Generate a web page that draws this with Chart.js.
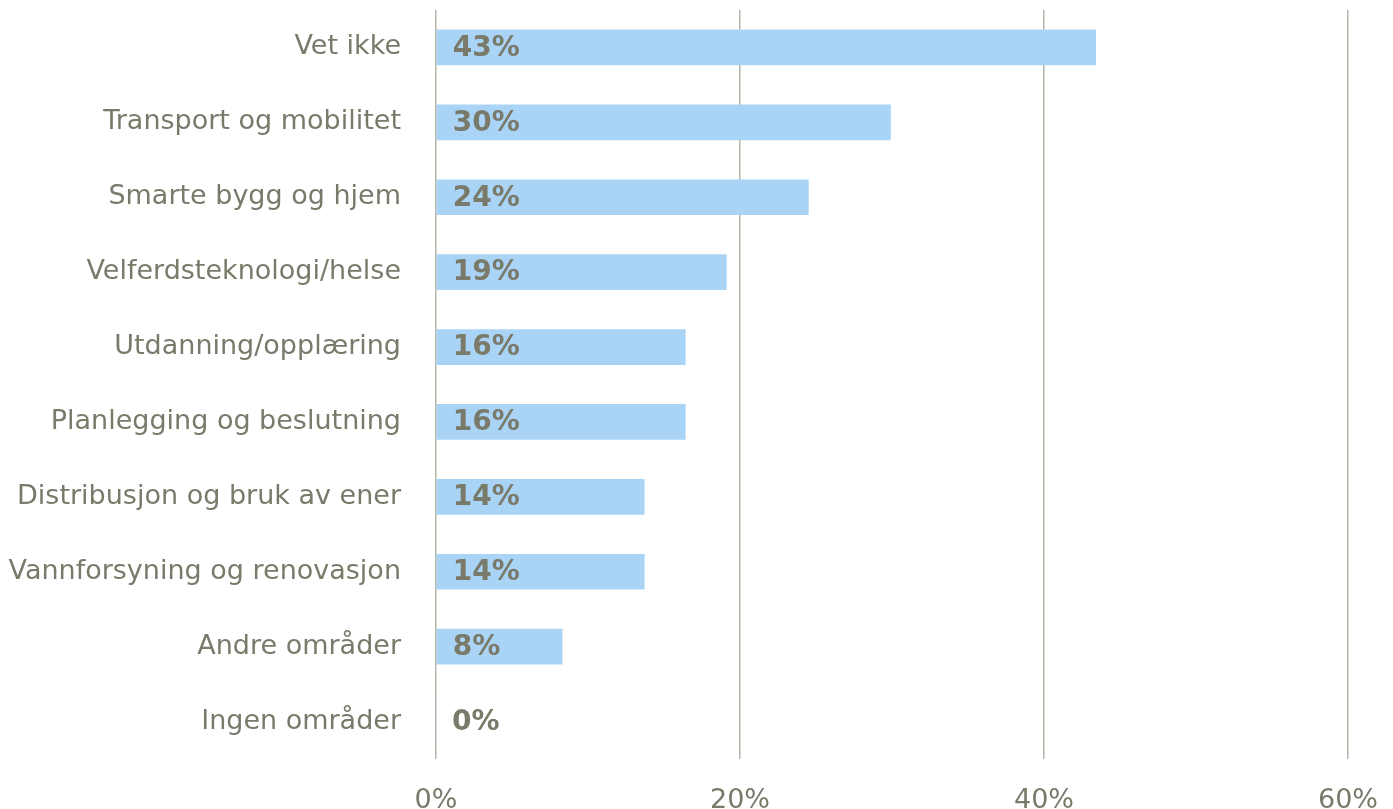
<!DOCTYPE html>
<html>
<head>
<meta charset="utf-8">
<script src="https://cdn.jsdelivr.net/npm/chart.js@4"></script>
<style>
  html, body { margin: 0; padding: 0; background: #fff; }
  #wrap { width: 1393px; height: 809px; position: relative; }
</style>
</head>
<body>
<div id="wrap"><canvas id="chart"></canvas></div>
<script>
const categories = [
  'Vet ikke',
  'Transport og mobilitet',
  'Smarte bygg og hjem',
  'Velferdsteknologi/helse',
  'Utdanning/opplæring',
  'Planlegging og beslutning',
  'Distribusjon og bruk av ener',
  'Vannforsyning og renovasjon',
  'Andre områder',
  'Ingen områder'
];
const values = [43.4, 29.9, 24.5, 19.1, 16.4, 16.4, 13.7, 13.7, 8.3, 0];
const valueLabels = ['43%', '30%', '24%', '19%', '16%', '16%', '14%', '14%', '8%', '0%'];
const xTicks = [0, 20, 40, 60];

const textColor = '#7a7a6b';
const fontFamily = '"DejaVu Sans", Verdana, sans-serif';

// tekst inni søylene
const barLabels = {
  id: 'barLabels',
  afterDatasetsDraw(chart) {
    const ctx = chart.ctx;
    const meta = chart.getDatasetMeta(0);
    ctx.save();
    ctx.font = 'bold 28px ' + fontFamily;
    ctx.fillStyle = textColor;
    ctx.textAlign = 'left';
    ctx.textBaseline = 'middle';
    meta.data.forEach((bar, i) => {
      ctx.fillText(valueLabels[i], bar.base + 16, bar.y + 1);
    });
    ctx.restore();
  }
};

new Chart(document.getElementById('chart'), {
  type: 'bar',
  data: {
    labels: categories,
    datasets: [{
      data: values,
      backgroundColor: '#a9d4f5',
      barThickness: 35
    }]
  },
  options: {
    indexAxis: 'y',
    responsive: true,
    maintainAspectRatio: false,
    animation: false,
    layout: { padding: { top: 10, right: 45, bottom: 0, left: 0 } },
    plugins: {
      legend: { display: false },
      tooltip: { enabled: false }
    },
    scales: {
      x: {
        min: 0,
        max: 60,
        afterBuildTicks: s => { s.ticks = xTicks.map(v => ({ value: v })); },
        afterFit: s => { s.height = 50; s.paddingLeft = 0; s.paddingRight = 0; },
        border: { display: false },
        grid: { color: '#b5b5aa', lineWidth: 1.5, tickLength: 0, drawTicks: false },
        ticks: {
          padding: 26,
          maxRotation: 0,
          color: textColor,
          font: { family: fontFamily, size: 27 },
          callback: v => v + '%'
        }
      },
      y: {
        afterFit: s => { s.width = 436; s.paddingTop = 0; s.paddingBottom = 0; },
        border: { display: false },
        grid: { display: false, drawTicks: false, tickLength: 0 },
        ticks: {
          padding: 35,
          color: textColor,
          font: { family: fontFamily, size: 27 }
        }
      }
    }
  },
  plugins: [barLabels]
});
</script>
</body>
</html>
